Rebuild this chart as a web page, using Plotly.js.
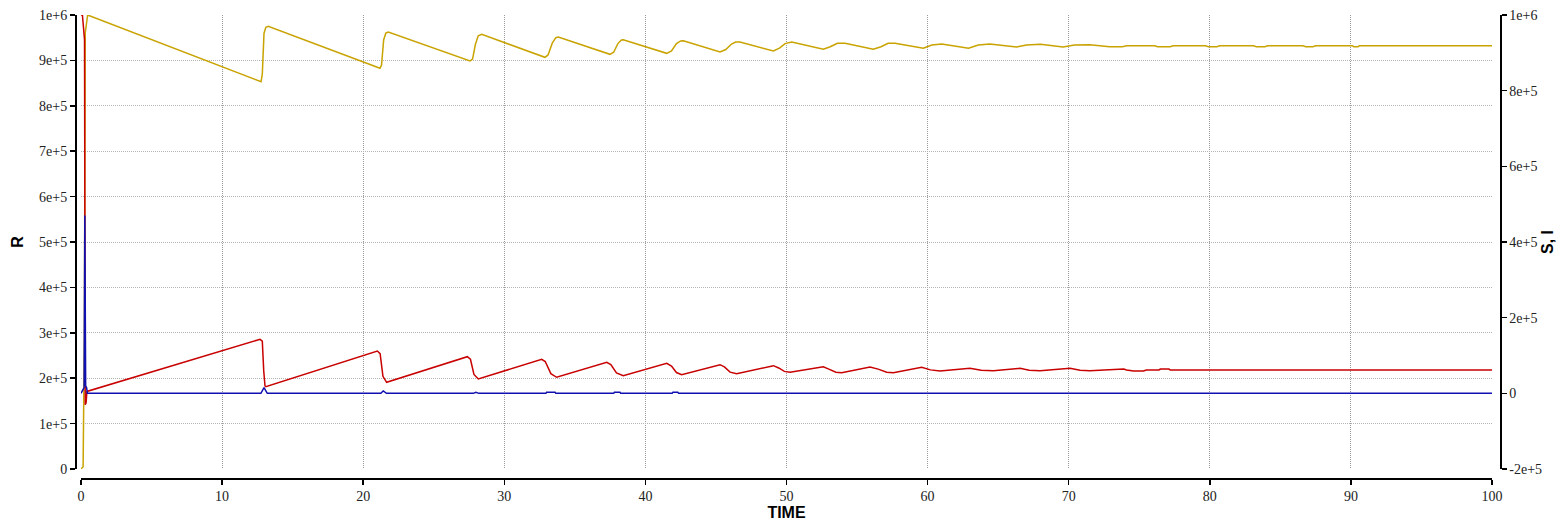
<!DOCTYPE html>
<html>
<head>
<meta charset="utf-8">
<script src="https://cdn.plot.ly/plotly-3.0.1.min.js"></script>
<style>html,body{margin:0;padding:0;background:#fff;}#chart{width:1564px;height:523px;}</style>
</head>
<body>
<div id="chart"></div>
<script>
// R (recovered), left axis
const rTime = [0, 0.15, 0.24, 0.3, 0.47,
  12.76, 12.85, 12.97, 13.1, 13.27,
  21.19, 21.3, 21.45, 21.6, 21.78,
  27.57, 27.75, 27.95, 28.15, 28.4,
  32.88, 33.1, 33.4, 33.65, 33.83,
  37.49, 37.75, 38.05, 38.3, 38.43,
  41.51, 41.85, 42.2, 42.5, 42.69,
  45.29, 45.7, 46.1, 46.4, 46.7,
  49.07, 49.5, 49.9, 50.37,
  52.61, 53.1, 53.6, 54.15,
  56.15, 56.7, 57.2, 57.69,
  59.7, 60.3, 61.0,
  62.9, 63.6, 64.4,
  66.3, 67.0, 68.0,
  69.6, 70.4, 71.5,
  72.9, 73.8, 74.1,
  76.1, 76.3, 77.2, 77.4,
  79.7, 79.9, 80.5, 80.7,
  83.1, 83.3, 83.9, 84.1,
  86.6, 86.8, 87.3, 87.5,
  90.1, 90.2, 90.5, 90.6, 100];
const rValues = [0, 5000, 300000, 960000, 1000000,
  853000, 870000, 960000, 973000, 975000,
  882600, 890000, 945000, 960000, 962500,
  898700, 903000, 935000, 954000, 957500,
  906800, 912000, 938000, 950000, 951500,
  913400, 918000, 937000, 945000, 945600,
  915600, 921000, 937000, 943000, 943400,
  918500, 924000, 936000, 940500, 940500,
  920700, 927000, 937000, 940500,
  924400, 930000, 937600, 937600,
  924400, 930000, 937600, 937600,
  926600, 934000, 936000,
  926600, 934000, 936000,
  929500, 934000, 935400,
  929500, 934000, 934600,
  930200, 930200, 932400,
  932400, 930200, 930200, 932400,
  932400, 930200, 930200, 932400,
  932400, 930200, 930200, 932400,
  932400, 930200, 930200, 932400,
  932400, 930200, 930200, 932400, 932400];

// S (susceptible), right axis
const sTime = [0, 0.1, 0.25, 0.3, 0.36, 0.42,
  12.69, 12.85, 12.95, 13.04, 13.1,
  21.0, 21.2, 21.4, 21.66,
  27.38, 27.6, 27.85, 28.16,
  32.65, 32.9, 33.3, 33.71,
  37.26, 37.55, 37.95, 38.43,
  41.51, 41.85, 42.2, 42.57,
  45.29, 45.6, 46.0, 46.47,
  49.07, 49.45, 49.85, 50.25,
  52.61, 53.0, 53.5, 53.91,
  55.92, 56.5, 57.1, 57.57,
  59.58, 60.2, 60.88,
  63.0, 63.8, 64.66,
  66.55, 67.2, 67.97,
  70.1, 70.8, 71.5,
  73.2, 73.9, 74.1, 74.6, 75.3, 75.5,
  76.4, 76.5, 77.1, 77.2, 100];
const sValues = [1000000, 1000000, 935000, -30000, -25000, 5000,
  142800, 138000, 60000, 19400, 17500,
  111900, 105000, 45000, 29200,
  96800, 90000, 50000, 37900,
  90000, 84000, 52000, 42400,
  82000, 76000, 54000, 46600,
  79400, 72000, 55000, 49300,
  75700, 70000, 56000, 51900,
  73100, 67000, 58000, 55600,
  70400, 64000, 56000, 54500,
  69600, 64000, 56000, 54500,
  68800, 62000, 59000,
  66200, 61000, 59800,
  66200, 61000, 59800,
  66200, 61000, 59800,
  64300, 64300, 61700, 59000, 59000, 61700,
  61700, 64300, 64300, 61700, 61700];

// I (infected), right axis
const iTime = [0, 0.18, 0.22, 0.27, 0.33, 0.4, 0.45,
  12.75, 12.97, 13.2,
  21.25, 21.42, 21.65,
  27.8, 27.98, 28.2,
  32.95, 33.0, 33.6, 33.65,
  37.75, 37.8, 38.2, 38.25,
  41.9, 41.95, 42.3, 42.35, 100];
const iValues = [0, 15000, 15000, 470000, 20000, 15000, 0,
  0, 15000, 0,
  0, 6200, 0,
  0, 3000, 0,
  0, 2600, 2600, 0,
  0, 2600, 2600, 0,
  0, 2600, 2600, 0, 0];

const xTickVals = [0, 10, 20, 30, 40, 50, 60, 70, 80, 90, 100];
const xTickText = ['0', '10', '20', '30', '40', '50', '60', '70', '80', '90', '100'];
const leftTickVals = [0, 100000, 200000, 300000, 400000, 500000, 600000, 700000, 800000, 900000, 1000000];
const leftTickText = ['0', '1e+5', '2e+5', '3e+5', '4e+5', '5e+5', '6e+5', '7e+5', '8e+5', '9e+5', '1e+6'];
const rightTickVals = [-200000, 0, 200000, 400000, 600000, 800000, 1000000];
const rightTickText = ['-2e+5', '0', '2e+5', '4e+5', '6e+5', '8e+5', '1e+6'];

const tickFont = {family: 'Liberation Serif', size: 14, color: '#222'};
const titleFont = {family: 'Liberation Sans', size: 16, color: '#000', weight: 'bold'};

const traces = [
  {x: sTime, y: sValues, type: 'scatter', mode: 'lines', name: 'S', yaxis: 'y2',
   line: {color: '#c80000', width: 1.5}},
  {x: iTime, y: iValues, type: 'scatter', mode: 'lines', name: 'I', yaxis: 'y2',
   line: {color: '#1010b0', width: 1.5}},
  {x: rTime, y: rValues, type: 'scatter', mode: 'lines', name: 'R', yaxis: 'y',
   line: {color: '#c9a300', width: 1.5}}
];

const W = 1564, H = 523;
const mL = 75, mR = 64, mT = 15, mB = 45;
const pw = W - mL - mR, ph = H - mT - mB;

const layout = {
  width: W, height: H,
  margin: {l: mL, r: mR, t: mT, b: mB, pad: 0},
  paper_bgcolor: '#fff', plot_bgcolor: '#fff',
  showlegend: false,
  xaxis: {
    domain: [(81 - mL) / pw, (1492 - mL) / pw],
    anchor: 'free', position: 0,
    range: [0, 100],
    tickvals: xTickVals, ticktext: xTickText,
    ticks: 'outside', ticklen: 5, tickwidth: 1.5, tickcolor: '#000',
    showline: true, linecolor: '#000', linewidth: 1.5,
    showgrid: true, gridcolor: '#9a9a9a', griddash: '1px,1px', gridwidth: 1,
    zeroline: false,
    tickfont: tickFont,
    title: {text: 'TIME', font: titleFont, standoff: 3}
  },
  yaxis: {
    domain: [(478 - 469) / ph, 1],
    anchor: 'free', position: 0,
    range: [0, 1000000],
    tickvals: leftTickVals, ticktext: leftTickText,
    ticks: 'outside', ticklen: 5, tickwidth: 1.5, tickcolor: '#000',
    showline: true, linecolor: '#000', linewidth: 1.5,
    showgrid: true, gridcolor: '#b4b4b4', griddash: '1px,1px', gridwidth: 1,
    zeroline: false,
    tickfont: tickFont,
    title: {text: 'R', font: titleFont, standoff: 10}
  },
  yaxis2: {
    domain: [(478 - 469) / ph, 1],
    overlaying: 'y', side: 'right',
    anchor: 'free', position: 1,
    range: [-200000, 1000000],
    tickvals: rightTickVals, ticktext: rightTickText,
    ticks: 'outside', ticklen: 5, tickwidth: 1.5, tickcolor: '#000',
    showline: true, linecolor: '#000', linewidth: 1.5,
    showgrid: false, zeroline: false,
    tickfont: tickFont,
    title: {text: 'S, I', font: titleFont, standoff: -4}
  }
};

Plotly.newPlot('chart', traces, layout, {staticPlot: true, displayModeBar: false});
</script>
</body>
</html>
